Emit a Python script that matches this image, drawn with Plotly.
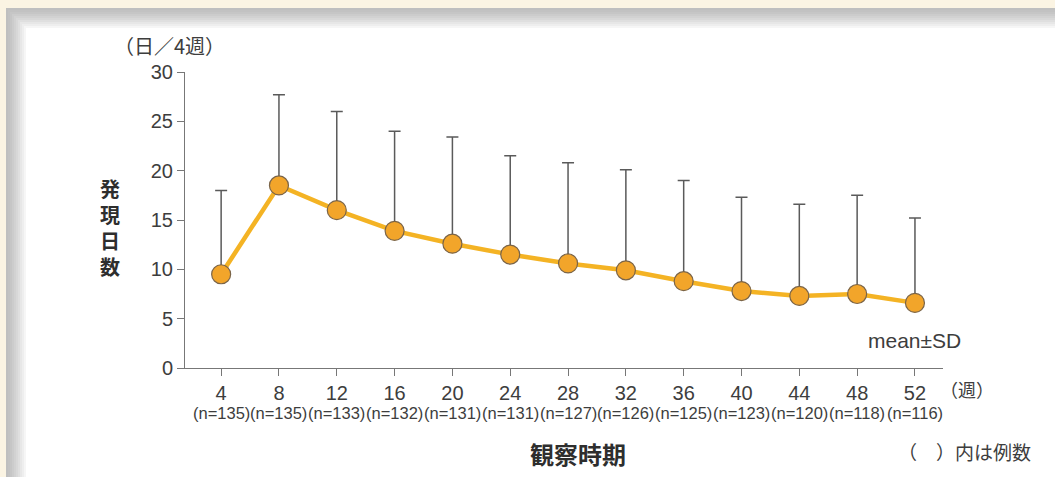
import plotly.graph_objects as go

# 観察時期 (weeks), mean days per 4 weeks, SD, and number of cases
weeks = [4, 8, 12, 16, 20, 24, 28, 32, 36, 40, 44, 48, 52]
mean_days = [9.5, 18.5, 16.0, 13.9, 12.6, 11.5, 10.6, 9.9, 8.8, 7.8, 7.3, 7.5, 6.6]
sd_days = [8.5, 9.2, 10.0, 10.1, 10.8, 10.0, 10.2, 10.2, 10.2, 9.5, 9.3, 10.0, 8.6]
n_cases = [135, 135, 133, 132, 131, 131, 127, 126, 125, 123, 120, 118, 116]
y_ticks = [0, 5, 10, 15, 20, 25, 30]

W, H = 1055, 477
L, R, T, B = 185, 112, 72, 109
PW, PH = W - L - R, H - T - B

def px(x):
    return (x - L) / PW

def py(y):
    return (H - B - y) / PH

TXT = "#3d3d3d"
JP = "Noto Sans CJK JP"
LAT = "Liberation Sans, Arial, sans-serif"

fig = go.Figure()
fig.add_trace(go.Scatter(
    x=weeks, y=mean_days, mode="lines+markers",
    line=dict(color="#f4b324", width=4.5),
    marker=dict(size=19, color="#f2a52a", line=dict(color="#7a6448", width=1.2)),
    error_y=dict(type="data", symmetric=False, array=sd_days,
                 arrayminus=[0] * len(sd_days), color="#5a5a5a",
                 thickness=1.5, width=6),
    showlegend=False, hoverinfo="skip",
))

shapes = []
# cream page with a white card and a soft grey edge on its top and left
shapes.append(dict(type="rect", xref="paper", yref="paper", layer="below",
                   x0=px(6), x1=px(W + 5), y0=py(H + 5), y1=py(8),
                   fillcolor="white", line=dict(width=0)))
steps = 10
for i in range(steps):
    g = int(0xbf + (0xff - 0xbf) * (i / steps) ** 1.3)
    col = f"rgb({g},{g},{g})"
    shapes.append(dict(type="rect", xref="paper", yref="paper", layer="below",
                       x0=px(6 + 2 * i), x1=px(8 + 2 * i), y0=py(H + 5), y1=py(8 + 2 * i),
                       fillcolor=col, line=dict(width=0)))
    shapes.append(dict(type="rect", xref="paper", yref="paper", layer="below",
                       x0=px(6 + 2 * i), x1=px(W + 5), y0=py(10 + 2 * i), y1=py(8 + 2 * i),
                       fillcolor=col, line=dict(width=0)))

annotations = []
for wk, n in zip(weeks, n_cases):
    annotations.append(dict(x=wk, xref="x", y=py(413), yref="paper",
                            text=f"(n={n})", showarrow=False,
                            font=dict(family=LAT, size=16.5, color=TXT),
                            xanchor="center", yanchor="middle"))
annotations += [
    dict(x=px(112), y=py(46), text="（日／4週）", xanchor="left", yanchor="middle",
         font=dict(family=JP, size=20, color=TXT)),
    dict(x=px(938), y=py(389), text="（週）", xanchor="left", yanchor="middle",
         font=dict(family=JP, size=18, color=TXT)),
    dict(x=px(578), y=py(453), text="<b>観察時期</b>", xanchor="center", yanchor="middle",
         font=dict(family=JP, size=24, color="#2e2e2e")),
    dict(x=px(1033), y=py(451), text="（　）内は例数", xanchor="right", yanchor="middle",
         font=dict(family=JP, size=19, color=TXT)),
    dict(x=px(963), y=py(340), text="mean±SD", xanchor="right", yanchor="middle",
         font=dict(family=LAT, size=21, color=TXT)),
    dict(x=px(110), y=py(228), text="<b>発<br>現<br>日<br>数</b>",
         xanchor="center", yanchor="middle",
         font=dict(family=JP, size=20, color="#2e2e2e")),
]
for a in annotations:
    a.setdefault("xref", "paper")
    a.setdefault("yref", "paper")
    a.setdefault("showarrow", False)

fig.update_layout(
    width=W, height=H,
    margin=dict(l=L, r=R, t=T, b=B, pad=0),
    paper_bgcolor="#fbf4e3", plot_bgcolor="rgba(0,0,0,0)",
    shapes=shapes, annotations=annotations,
    xaxis=dict(range=[1.5, 53.94], tickvals=weeks, ticktext=[str(w) for w in weeks],
               showgrid=False, zeroline=False, showline=True, linecolor="#777777",
               linewidth=1, ticks="outside", ticklen=7, tickcolor="#777777",
               tickfont=dict(family=LAT, size=20, color=TXT)),
    yaxis=dict(range=[0, 30], tickvals=y_ticks, showgrid=False, zeroline=False,
               showline=True, linecolor="#777777", linewidth=1, ticks="outside",
               ticklen=7, tickcolor="#777777",
               tickfont=dict(family=LAT, size=20, color=TXT)),
)

fig.write_html("out.html")
